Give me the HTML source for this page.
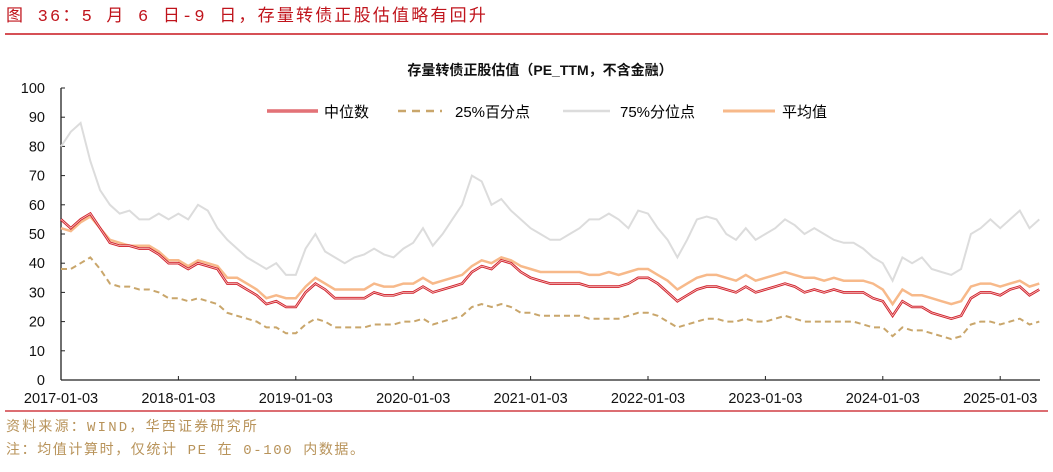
<!DOCTYPE html>
<html><head><meta charset="utf-8"><style>
body{margin:0;background:#fff;width:1053px;height:467px;overflow:hidden;font-family:"Liberation Sans","Noto Sans CJK SC",sans-serif}
</style></head><body>
<svg width="1053" height="467" xmlns="http://www.w3.org/2000/svg" id="chart">
<text x="6" y="21" font-size="17" fill="#c0141c" letter-spacing="2.2" font-family="'Liberation Mono','Noto Sans CJK SC',sans-serif">图 36：5 月 6 日-9 日，存量转债正股估值略有回升</text>
<line x1="5" y1="34" x2="1048" y2="34" stroke="#c8161e" stroke-width="1.5"/>
<text x="540" y="75" font-size="14" font-weight="bold" text-anchor="middle" fill="#111">存量转债正股估值（PE_TTM，不含金融）</text>
<g id="legend">
<g><line x1="267" y1="111" x2="318" y2="111" stroke="#d0202a" stroke-width="3"/><line x1="267" y1="111" x2="318" y2="111" stroke="#f6c4c4" stroke-width="1"/><text x="324" y="117" font-size="15">中位数</text></g>
<g><line x1="398" y1="111" x2="442" y2="111" stroke="#c9a66b" stroke-width="2.5" stroke-dasharray="8,6"/><text x="455" y="117" font-size="15">25%百分点</text></g>
<g><line x1="563" y1="111" x2="610" y2="111" stroke="#dcdcdc" stroke-width="2.5"/><text x="620" y="117" font-size="15">75%分位点</text></g>
<g><line x1="723" y1="111" x2="775" y2="111" stroke="#f7b98a" stroke-width="3"/><text x="782" y="117" font-size="15">平均值</text></g>
</g>
<g id="axes"></g>
<g id="series"></g>
<line x1="5" y1="411" x2="1048" y2="411" stroke="#c8161e" stroke-width="1.2"/>
<text x="6" y="431" font-size="14" fill="#b8935a" letter-spacing="2.2" font-family="'Liberation Mono','Noto Sans CJK SC',sans-serif">资料来源：WIND，华西证券研究所</text>
<text x="6" y="454" font-size="14" fill="#b8935a" letter-spacing="1.6" font-family="'Liberation Mono','Noto Sans CJK SC',sans-serif">注：均值计算时，仅统计 PE 在 0-100 内数据。</text>
</svg>
<script>
const yTicks=[0,10,20,30,40,50,60,70,80,90,100];
const xTickLabels=["2017-01-03","2018-01-03","2019-01-03","2020-01-03","2021-01-03","2022-01-03","2023-01-03","2024-01-03","2025-01-03"];
const xTickMonths=[0,12,24,36,48,60,72,84,96];
const median=[55,52,55,57,52,47,46,46,45,45,43,40, 40,38,40,39,38,33,33,31,29,26,27,25, 25,30,33,31,28,28,28,28,30,29,29,30, 30,32,30,31,32,33,37,39,38,41,40,37, 35,34,33,33,33,33,32,32,32,32,33,35, 35,33,30,27,29,31,32,32,31,30,32,30, 31,32,33,32,30,31,30,31,30,30,30,28, 27,22,27,25,25,23,22,21,22,28,30,30, 29,31,32,29,31];
const mean=[52,51,54,56,52,48,47,46,46,46,44,41, 41,39,41,40,39,35,35,33,31,28,29,28, 28,32,35,33,31,31,31,31,33,32,32,33, 33,35,33,34,35,36,39,41,40,42,41,39, 38,37,37,37,37,37,36,36,37,36,37,38, 38,36,34,31,33,35,36,36,35,34,36,34, 35,36,37,36,35,35,34,35,34,34,34,33, 31,26,31,29,29,28,27,26,27,32,33,33, 32,33,34,32,33];
const p25=[38,38,40,42,38,33,32,32,31,31,30,28, 28,27,28,27,26,23,22,21,20,18,18,16, 16,19,21,20,18,18,18,18,19,19,19,20, 20,21,19,20,21,22,25,26,25,26,25,23, 23,22,22,22,22,22,21,21,21,21,22,23, 23,22,20,18,19,20,21,21,20,20,21,20, 20,21,22,21,20,20,20,20,20,20,19,18, 18,15,18,17,17,16,15,14,15,19,20,20, 19,20,21,19,20];
const p75=[80,85,88,75,65,60,57,58,55,55,57,55, 57,55,60,58,52,48,45,42,40,38,40,36, 36,45,50,44,42,40,42,43,45,43,42,45, 47,52,46,50,55,60,70,68,60,62,58,55, 52,50,48,48,50,52,55,55,57,55,52,58, 57,52,48,42,48,55,56,55,50,48,52,48, 50,52,55,53,50,52,50,48,47,47,45,42, 40,34,42,40,42,38,37,36,38,50,52,55, 52,55,58,52,55];
const NS="http://www.w3.org/2000/svg";
const X0=61,PXM=117.4/12,Y0=380,PXU=2.92;
function xs(m){return X0+m*PXM}
function ys(v){return Y0-v*PXU}
function mk(tag,attrs,parent){const e=document.createElementNS(NS,tag);for(const k in attrs)e.setAttribute(k,attrs[k]);parent.appendChild(e);return e}
const ax=document.getElementById('axes');
let yl=mk('line',{x1:X0,y1:ys(100),x2:X0,y2:Y0,stroke:'#222','stroke-width':1.3},ax);


let xl=mk('line',{x1:X0,y1:Y0,x2:1040,y2:Y0,stroke:'#222','stroke-width':1.3},ax);


yTicks.forEach(v=>{
 mk('line',{x1:X0,y1:ys(v),x2:X0+4,y2:ys(v),stroke:'#222'},ax);
 const t=mk('text',{x:X0-16,y:ys(v)+5,'font-size':14.5,'text-anchor':'end',fill:'#111'},ax);t.textContent=v;
 
 
});
xTickMonths.forEach((m,i)=>{
 mk('line',{x1:xs(m),y1:Y0,x2:xs(m),y2:Y0-4,stroke:'#222'},ax);
 const t=mk('text',{x:xs(m),y:Y0+23,'font-size':14.5,'text-anchor':'middle',fill:'#111'},ax);t.textContent=xTickLabels[i];
 
 
});
const sg=document.getElementById('series');
function path(arr){return arr.map((v,i)=>(i?'L':'M')+xs(i).toFixed(1)+','+ys(v).toFixed(1)).join('')}
let a=mk('path',{d:path(p75),fill:'none',stroke:'#dcdcdc','stroke-width':2},sg);


let b=mk('path',{d:path(p25),fill:'none',stroke:'#c9a66b','stroke-width':2,'stroke-dasharray':'6,4'},sg);


let c=mk('path',{d:path(mean),fill:'none',stroke:'#f7b98a','stroke-width':2.5},sg);


let d=mk('path',{d:path(median),fill:'none',stroke:'#d0202a','stroke-width':2.6},sg);


let e=mk('path',{d:path(median),fill:'none',stroke:'#f6c4c4','stroke-width':0.8},sg);


</script>
</body></html>
